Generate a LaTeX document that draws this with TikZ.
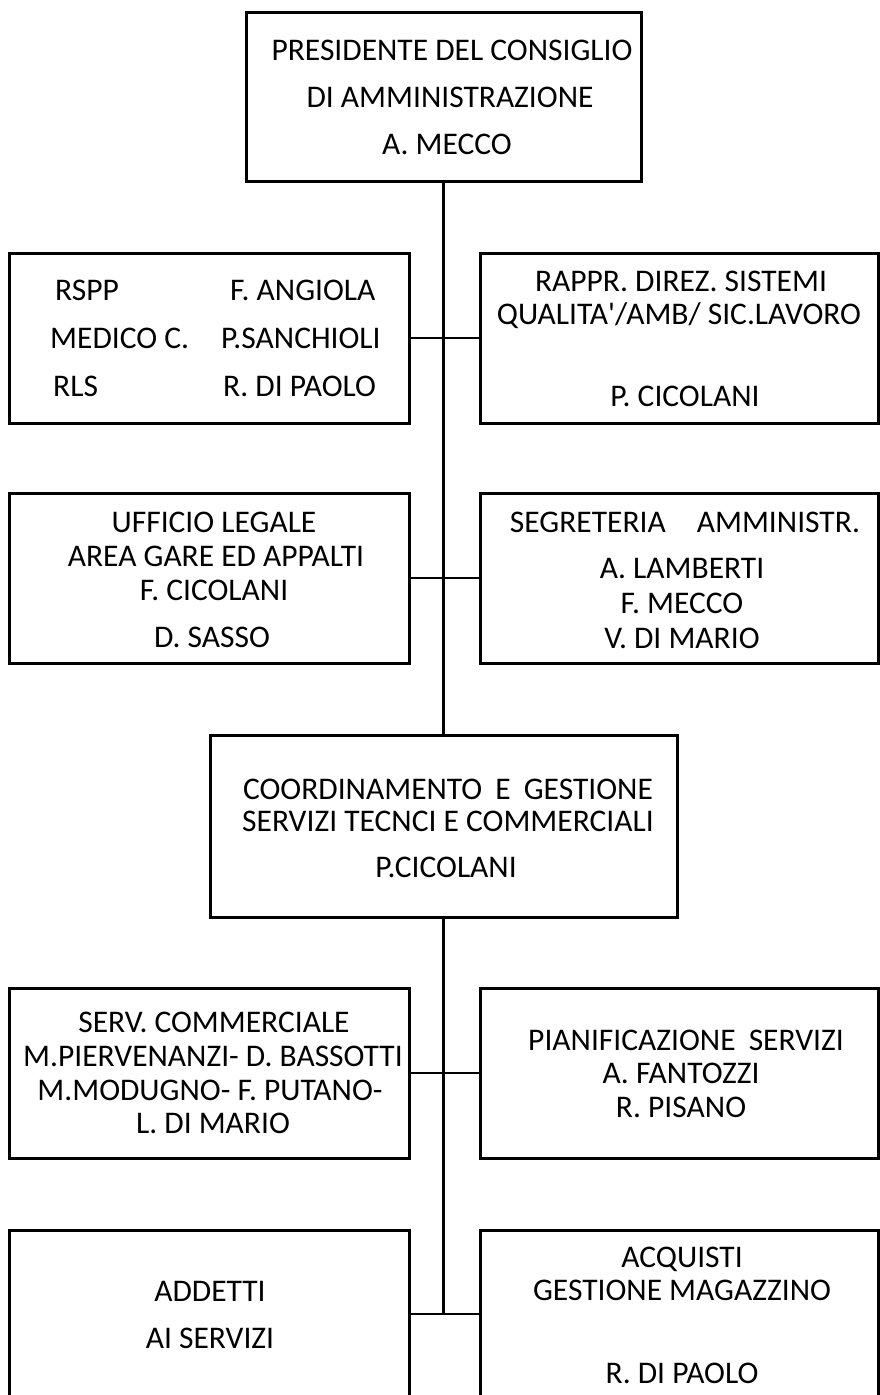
\documentclass[tikz,border=0pt]{standalone}
\usepackage{fontspec}
\setmainfont{Carlito}[Ligatures=TeXOff]
\begin{document}
\begin{tikzpicture}[x=1pt,y=-1pt,
  box/.style={draw=black, line width=3pt, inner sep=0pt, minimum width=#1},
  box/.default=400pt,
  lbl/.style={inner sep=0pt, text height=20.3pt, text depth=0pt, font=\fontsize{31.5}{36}\selectfont},
  spine/.style={line width=3pt},
  link/.style={line width=2pt}]
\useasboundingbox (0,0) rectangle (880,1395);
\clip (0,0) rectangle (880,1395);
\fill[white] (0,0) rectangle (880,1395);

% boxes
\node[box=395pt, minimum height=169pt] (top) at (443.5,96.5) {};
\node[box=400pt, minimum height=170pt] (r1l) at (209,338) {};
\node[box=398pt, minimum height=170pt] (r1r) at (679,338) {};
\node[box=400pt, minimum height=170pt] (r2l) at (209,578) {};
\node[box=398pt, minimum height=170pt] (r2r) at (679,578) {};
\node[box=467pt, minimum height=182pt] (mid) at (443.5,826) {};
\node[box=400pt, minimum height=170pt] (r3l) at (209,1073) {};
\node[box=398pt, minimum height=170pt] (r3r) at (679,1073) {};
\node[box=400pt, minimum height=200pt] (r4l) at (209,1330) {};
\node[box=398pt, minimum height=200pt] (r4r) at (679,1330) {};

% connectors
\coordinate (end) at (443.5,1314);
\draw[spine] (top.south) -- (mid.north);
\draw[spine] (mid.south) -- (end);
\draw[link] (r1l.east) -- (r1r.west);
\draw[link] (r2l.east) -- (r2r.west);
\draw[link] (r3l.east) -- (r3r.west);
\draw[link] (end -| r4l.east) -- (end -| r4r.west);

% texts: top
\node[lbl] (t1) at (452,50) {PRESIDENTE DEL CONSIGLIO};
\node[lbl] (t2) at (450,97) {DI AMMINISTRAZIONE};
\node[lbl] (t3) at (447,144) {A. MECCO};

% row 1 left
\node[lbl, anchor=west] (a1) at (55,290) {RSPP};
\node[lbl, anchor=west] (a2) at (50,338) {MEDICO C.};
\node[lbl, anchor=west] (a3) at (53,386) {RLS};
\node[lbl, anchor=west] (b1) at (230,290) {F. ANGIOLA};
\node[lbl, anchor=west] (b2) at (221,338) {P.SANCHIOLI};
\node[lbl, anchor=west] (b3) at (223,386) {R. DI PAOLO};

% row 1 right
\node[lbl] (c1) at (681,281) {RAPPR. DIREZ. SISTEMI};
\node[lbl] (c2) at (679,314) {QUALITA'/AMB/ SIC.LAVORO};
\node[lbl] (c3) at (685,396) {P. CICOLANI};

% row 2 left
\node[lbl] (d1) at (214,522) {UFFICIO LEGALE};
\node[lbl] (d2) at (216,556) {AREA GARE ED APPALTI};
\node[lbl] (d3) at (214,590) {F. CICOLANI};
\node[lbl] (d4) at (212,637) {D. SASSO};

% row 2 right
\node[lbl] (e1) at (685,522) {SEGRETERIA\hspace{24pt} AMMINISTR.};
\node[lbl] (e2) at (682,568) {A. LAMBERTI};
\node[lbl] (e3) at (682,603) {F. MECCO};
\node[lbl] (e4) at (682,638) {V. DI MARIO};

% middle
\node[lbl] (m1) at (448,789) {COORDINAMENTO\hspace{6pt} E\hspace{6pt} GESTIONE};
\node[lbl] (m2) at (448,821) {SERVIZI TECNCI E COMMERCIALI};
\node[lbl] (m3) at (446,867) {P.CICOLANI};

% row 3 left
\node[lbl] (f1) at (214,1022) {SERV. COMMERCIALE};
\node[lbl] (f2) at (213,1056) {M.PIERVENANZI- D. BASSOTTI};
\node[lbl] (f3) at (210,1090) {M.MODUGNO- F. PUTANO-};
\node[lbl] (f4) at (213,1123) {L. DI MARIO};

% row 3 right
\node[lbl] (g1) at (686,1040) {PIANIFICAZIONE\hspace{6pt} SERVIZI};
\node[lbl] (g2) at (681,1073) {A. FANTOZZI};
\node[lbl] (g3) at (681,1107) {R. PISANO};

% row 4 left
\node[lbl] (h1) at (210,1291) {ADDETTI};
\node[lbl] (h2) at (210,1338) {AI SERVIZI};

% row 4 right
\node[lbl] (i1) at (682,1257) {ACQUISTI};
\node[lbl] (i2) at (682,1290) {GESTIONE MAGAZZINO};
\node[lbl] (i3) at (682,1373) {R. DI PAOLO};
\end{tikzpicture}
\end{document}
